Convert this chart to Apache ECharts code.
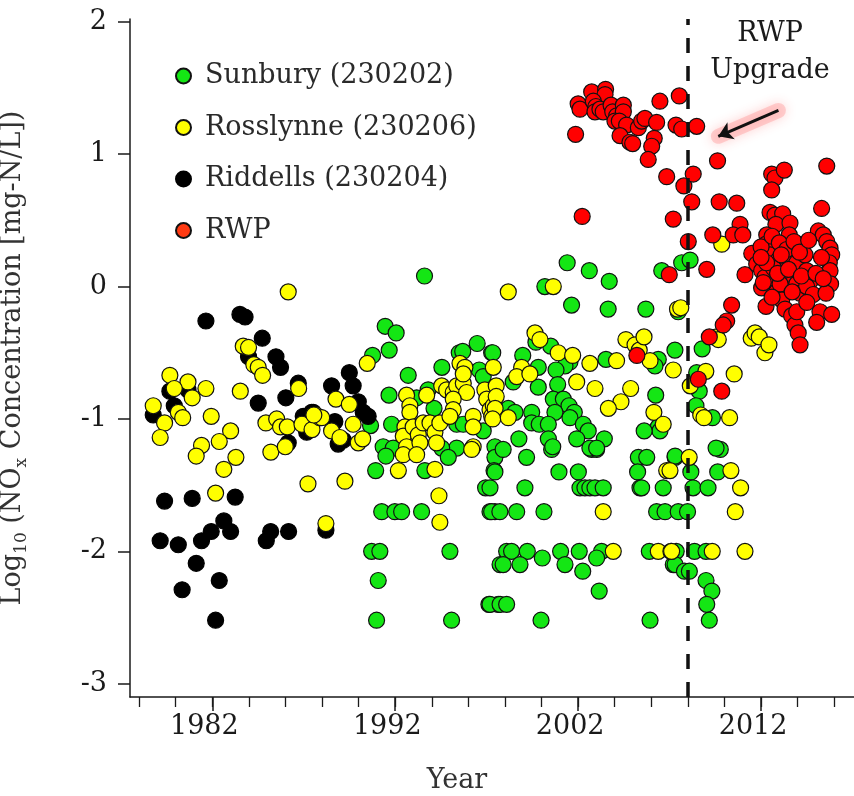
<!DOCTYPE html>
<html>
<head>
<meta charset="utf-8">
<script src="https://cdn.jsdelivr.net/npm/echarts@6/dist/echarts.min.js"></script>
<style>
html, body { margin: 0; padding: 0; background: #fff; }
#chart { width: 854px; height: 796px; }
</style>
</head>
<body>
<div id="chart"></div>
<script>
// Site names as shown in the legend
const seriesNames = ['Sunbury (230202)', 'Rosslynne (230206)', 'Riddells (230204)', 'RWP'];

// Tick positions
const yearLabels = [1982, 1992, 2002, 2012];
const yearMinorTicks = [1978, 1980, 1982, 1984, 1986, 1988, 1990, 1992, 1994, 1996, 1998, 2000, 2002, 2004, 2006, 2008, 2010, 2012, 2014, 2016];
const logTicks = [-3, -2, -1, 0, 1, 2];

// Year of the RWP upgrade (dashed line)
const upgradeYear = 2008;
// Arrow pointing at the post-upgrade drop
const arrowCoords = [[2012.95, 1.33], [2009.66, 1.135]];

// [year, log10 NOx (mg-N/L)]
const sunbury = [
  [1993.6,0.08],[1991.45,-0.30],[1992.05,-0.35],[1991.67,-0.48],[1990.76,-0.52],[1992.71,-0.67],[1991.66,-0.82],
  [1996.48,-0.43],[1997.27,-0.50],[1995.50,-0.50],[1995.69,-0.49],[1994.55,-0.61],[1996.59,-0.63],[1996.81,-0.68],
  [1993.17,-0.84],[1994.12,-0.92],[1993.80,-0.78],[1990.65,-1.05],[1991.80,-1.04],[1995.36,-1.04],[1995.72,-1.04],
  [1996.81,-1.09],[1991.34,-1.21],[1991.89,-1.22],[1995.36,-1.22],[1997.45,-1.21],[1994.54,-1.22],[1991.49,-1.28],
  [1990.93,-1.39],[1993.62,-1.39],[1994.90,-1.29],[1997.45,-1.29],[1997.40,-1.39],[1996.94,-1.52],[1991.26,-1.70],
  [1991.98,-1.70],[1992.35,-1.70],[1993.44,-1.70],[1997.18,-1.70],[1997.45,-1.70],[1990.71,-2.0],[1991.16,-2.0],
  [1994.99,-2.0],[1997.73,-2.10],[1991.07,-2.22],[1997.12,-2.40],[1997.63,-2.40],[1990.98,-2.52],[1995.08,-2.52],
  [1997.90,-1.23],[1999.18,-1.29],[2000.55,-1.23],[2002.74,-1.23],[2003.01,-1.23],[2005.29,-1.29],[2005.75,-1.29],
  [2007.30,-1.29],[1997.45,-1.40],[2000.95,-1.40],[2002.01,-1.40],[2005.25,-1.40],[1997.18,-1.52],[1999.09,-1.52],
  [2002.10,-1.52],[2002.37,-1.52],[2002.64,-1.52],[2002.92,-1.52],[2003.37,-1.52],[2005.38,-1.52],[2005.47,-1.52],
  [2006.65,-1.52],[1997.27,-1.70],[1997.72,-1.70],[1998.64,-1.70],[2000.13,-1.70],[2006.29,-1.70],[2006.75,-1.70],
  [2007.47,-1.70],[1998.09,-2.0],[1998.36,-2.0],[1999.22,-2.0],[2000.04,-2.05],[2001.04,-2.0],[2002.06,-2.0],
  [2003.28,-2.0],[2003.01,-2.05],[2005.89,-2.0],[2007.20,-2.10],[1997.90,-2.10],[1998.82,-2.10],[2001.28,-2.10],
  [2002.25,-2.15],[2003.15,-2.30],[1997.18,-2.40],[1997.73,-2.40],[1998.09,-2.40],[1999.97,-2.52],[2005.93,-2.52],
  [2009.77,-1.23],[2008.16,-1.40],[2009.63,-1.40],[2008.28,-1.52],[2009.10,-1.52],[2007.98,-1.70],[2007.36,-2.0],
  [2008.36,-2.0],[2008.99,-2.0],[2007.30,-2.10],[2007.81,-2.15],[2008.08,-2.15],[2008.99,-2.22],[2009.31,-2.30],
  [2009.03,-2.40],[2009.17,-2.52],
  [2000.18,0.0],[2003.70,0.04],[2001.64,-0.14],[2003.64,-0.17],[2005.70,-0.17],[2007.47,-0.19],[1999.69,-0.42],
  [2000.50,-0.45],[2001.55,-0.57],[2001.28,-0.60],[1998.97,-0.52],[1997.33,-0.50],[1998.45,-0.72],[1999.82,-0.61],
  [2000.79,-0.63],[2003.52,-0.55],[2006.38,-0.55],[2006.20,-0.60],[2007.29,-0.48],[2006.24,-0.82],[2006.38,-1.06],
  [2006.47,-1.09],[2005.61,-1.09],[1998.18,-0.92],[1998.55,-0.95],[1999.82,-0.76],[2000.88,-0.74],[2000.64,-0.85],
  [2001.19,-0.85],[2001.50,-0.90],[2001.79,-0.95],[2001.55,-0.99],[2000.73,-0.95],[1999.46,-0.95],[1999.46,-1.03],
  [1999.87,-1.04],[2000.37,-1.04],[2002.28,-1.04],[2002.55,-1.09],[1998.76,-1.15],[2000.37,-1.15],[2000.61,-1.21],
  [2001.92,-1.15],[2003.43,-1.15],[2002.64,-1.22],[2003.01,-1.22],
  [2001.40,0.18],[2002.61,0.12],[2006.57,0.12],[2007.66,0.18],[2008.12,0.20],
  [2008.78,-0.47],[2008.48,-0.65],[2008.62,-0.79],[2008.44,-0.90],[2009.34,-0.99],[2009.54,-1.22],[2007.30,-1.28]
];

const rosslynne = [
  [1986.15,-0.04],[1983.69,-0.45],[1983.98,-0.46],[1984.27,-0.59],[1984.51,-0.61],[1984.75,-0.67],[1979.68,-0.67],
  [1980.67,-0.72],[1979.92,-0.77],[1980.90,-0.84],[1981.65,-0.77],[1983.53,-0.79],[1986.72,-0.77],[1978.77,-0.90],
  [1980.14,-0.95],[1980.38,-0.99],[1981.94,-0.98],[1979.39,-1.03],[1979.15,-1.14],[1983.00,-1.09],[1982.38,-1.17],
  [1981.41,-1.20],[1981.12,-1.28],[1983.29,-1.29],[1984.93,-1.03],[1985.52,-1.00],[1985.73,-1.06],[1986.10,-1.06],
  [1985.20,-1.25],[1985.99,-1.21],[1986.90,-1.04],[1987.45,-1.08],[1987.66,-0.97],[1987.88,-0.99],[1982.63,-1.38],
  [1982.18,-1.56],[1987.23,-1.49],
  [1990.47,-0.58],[1988.76,-0.85],[1989.49,-0.89],[1989.70,-1.04],[1987.98,-0.99],[1987.55,-0.97],[1988.52,-1.09],
  [1988.98,-1.14],[1989.98,-1.18],[1990.22,-1.15],[1989.25,-1.47],[1988.21,-1.79],
  [1992.62,-0.82],[1992.80,-0.90],[1992.80,-0.95],[1992.53,-1.06],[1992.44,-1.13],[1992.62,-1.21],[1992.98,-1.06],
  [1993.26,-1.12],[1993.35,-1.18],[1993.53,-1.03],[1993.90,-1.03],[1994.17,-1.10],[1994.26,-1.18],[1994.44,-1.03],
  [1994.54,-0.75],[1994.81,-0.78],[1995.17,-0.80],[1995.36,-0.75],[1995.72,-0.73],[1995.90,-0.80],[1995.17,-0.85],
  [1995.17,-0.93],[1994.99,-0.98],[1995.54,-0.58],[1995.81,-0.61],[1995.72,-0.66],[1996.26,-0.98],[1996.26,-1.06],
  [1996.90,-0.78],[1997.00,-0.85],[1997.18,-0.93],[1997.36,-0.90],[1997.36,-0.61],[1997.27,-0.98],[1996.26,-1.21],
  [1992.44,-1.27],[1993.17,-1.27],[1993.72,-0.82],[1992.17,-1.39],[1994.17,-1.38],[1996.18,-1.23],[1994.39,-1.58],
  [1994.44,-1.78],
  [1998.18,-0.04],[2000.64,0.0],[1999.64,-0.35],[1999.91,-0.40],[2000.91,-0.50],[2001.70,-0.52],[1998.91,-0.61],
  [1998.64,-0.68],[1999.36,-0.66],[2002.64,-0.58],[2004.10,-0.56],[2004.61,-0.40],[2005.11,-0.44],[2005.34,-0.48],
  [2005.60,-0.38],[2005.93,-0.56],[2007.20,-0.63],[2001.92,-0.72],[2002.92,-0.77],[2004.87,-0.77],[2004.34,-0.87],
  [2003.65,-0.92],[2006.14,-0.95],[2006.65,-1.04],[1997.52,-0.75],[1997.52,-0.83],[1997.46,-0.92],[1997.33,-1.00],
  [1998.18,-0.99],
  [2006.84,-1.39],[2003.37,-1.70],[2003.92,-2.0],[2006.38,-2.0],[2007.07,-2.0],
  [2008.07,-1.29],[2007.02,-1.39],[2010.35,-1.39],[2010.88,-1.52],[2010.59,-1.70],[2007.11,-2.0],[2009.33,-2.0],
  [2011.12,-2.0],
  [2009.57,-0.38],[2009.66,-0.40],[2011.46,-0.39],[2011.67,-0.35],[2011.90,-0.38],[2012.21,-0.50],[2012.43,-0.44],
  [2007.43,-0.17],[2007.61,-0.16],[2008.13,-0.75],[2008.98,-0.64],[2010.53,-0.66],[2008.70,-0.97],[2008.88,-0.99],
  [2010.28,-0.99],[2009.85,0.32]
];

const riddells = [
  [1981.65,-0.26],[1983.51,-0.21],[1983.79,-0.23],[1984.73,-0.39],[1983.98,-0.53],[1985.48,-0.53],[1985.73,-0.61],
  [1986.70,-0.73],[1986.02,-0.84],[1984.51,-0.88],[1979.68,-0.79],[1980.67,-0.78],[1979.92,-0.90],[1978.77,-0.97],
  [1986.97,-0.98],[1987.43,-0.95],[1987.16,-1.10],[1986.15,-1.18],[1988.52,-0.75],[1989.49,-0.65],[1989.70,-0.75],
  [1989.98,-0.87],[1990.25,-0.95],[1990.52,-0.98],[1987.52,-0.95],[1987.43,-1.06],[1988.70,-1.02],[1988.88,-1.19],
  [1989.16,-1.16],[1979.39,-1.62],[1980.90,-1.60],[1983.25,-1.59],[1982.63,-1.77],[1981.94,-1.85],[1983.00,-1.85],
  [1979.15,-1.92],[1980.14,-1.95],[1981.41,-1.92],[1985.19,-1.85],[1984.95,-1.92],[1986.17,-1.85],[1981.12,-2.09],
  [1982.38,-2.22],[1980.35,-2.29],[1982.18,-2.52],[1988.21,-1.84]
];

const rwp = [
  [2002.74,1.47],[2003.50,1.49],[2003.47,1.45],[2002.00,1.38],[2002.10,1.34],[2002.83,1.40],[2002.97,1.36],
  [2002.92,1.32],[2003.19,1.34],[2003.37,1.32],[2003.80,1.37],[2003.89,1.32],[2004.11,1.29],[2004.47,1.37],
  [2004.47,1.32],[2004.01,1.25],[2004.25,1.25],[2004.65,1.22],[2005.29,1.20],[2005.47,1.25],[2005.65,1.27],
  [2006.29,1.24],[2006.47,1.40],[2007.53,1.44],[2001.86,1.15],[2004.29,1.14],[2004.83,1.09],[2004.98,1.08],
  [2006.16,1.12],[2006.02,1.06],[2005.83,0.96],[2007.35,1.22],[2007.66,1.19],[2008.48,1.21],[2006.84,0.83],
  [2007.78,0.76],[2008.29,0.85],[2008.21,0.64],[2002.22,0.53],[2007.20,0.51],[2008.02,0.34],[2006.98,0.09],
  [2009.62,0.95],[2015.59,0.91],[2012.58,0.85],[2012.76,0.82],[2013.27,0.88],[2012.58,0.73],[2009.71,0.64],
  [2010.67,0.63],[2015.31,0.59],[2010.85,0.47],[2010.48,0.39],[2011.00,0.39],[2009.36,0.39],[2012.49,0.56],
  [2012.76,0.54],[2013.18,0.55],[2012.81,0.47],[2013.58,0.48],[2013.54,0.39],[2009.03,0.13],[2011.12,0.09],
  [2015.13,0.42],[2015.40,0.39],[2015.59,0.34],[2015.77,0.29],[2015.86,0.24],[2015.73,0.18],[2015.77,0.12],
  [2015.80,0.02],
  [2012.31,0.39],[2012.27,0.32],[2012.76,0.29],[2012.49,0.24],[2012.94,0.20],[2011.49,0.25],[2011.76,0.17],
  [2012.03,0.12],[2012.21,0.07],[2012.49,0.02],[2012.85,-0.04],[2013.40,-0.01],[2013.58,0.19],[2013.95,0.18],
  [2014.31,0.32],[2014.40,0.24],[2014.49,0.12],[2014.68,0.04],[2014.77,-0.06],[2013.58,0.07],[2013.95,0.02],
  [2013.22,0.12],[2012.67,0.14],[2012.03,-0.01],
  [2012.12,0.03],[2013.13,-0.10],[2013.31,-0.17],[2013.67,-0.22],[2013.85,-0.29],[2014.03,-0.35],[2014.13,-0.44],
  [2013.95,-0.19],[2014.13,-0.05],[2014.49,0.00],[2014.85,-0.06],[2015.22,-0.19],[2015.86,-0.21],[2015.04,-0.27],
  [2013.04,0.02],[2010.39,-0.14],[2012.27,-0.15],[2010.12,-0.26],[2009.93,-0.29],[2009.17,-0.38],[2008.57,-0.70],
  [2009.85,-0.79],[2005.21,-0.52],
  [2012.0,0.30],[2012.6,0.38],[2013.0,0.33],[2013.4,0.28],[2013.8,0.34],[2014.1,0.26],[2012.3,0.18],[2012.9,0.10],
  [2013.5,0.13],[2014.2,0.08],[2013.7,-0.04],[2012.6,-0.08],[2014.5,-0.12],[2015.0,0.10],[2015.3,0.22],
  [2015.55,-0.05],[2015.4,0.06],[2012.0,0.22],[2013.1,0.24],[2014.6,0.35]
];

const FONT = 'DejaVu Serif';
const TEXT_COLOR = '#1a1a1a';
const X_MIN = 1977.5, X_MAX = 2017.08;
const Y_MIN = -3.1, Y_MAX = 2.021;

const chart = echarts.init(document.getElementById('chart'), null, { renderer: 'canvas' });

function dotStyle(fill, border) {
  return { color: fill, borderColor: border, borderWidth: 1.2, opacity: 1 };
}

const option = {
  animation: false,
  backgroundColor: '#ffffff',
  grid: { left: 130, right: 0, top: 19, bottom: 99, outerBoundsMode: 'none', containLabel: false },
  legend: {
    orient: 'vertical',
    left: 170,
    top: 55,
    icon: 'circle',
    itemWidth: 15,
    itemHeight: 15,
    itemGap: 19.5,
    data: [
      seriesNames[0], seriesNames[1], seriesNames[2],
      { name: seriesNames[3], itemStyle: { color: '#ff3a12' } }
    ],
    textStyle: { fontFamily: FONT, fontSize: 27, color: '#2a2a2a', padding: [0, 0, 0, 9], lineHeight: 32 }
  },
  xAxis: [
    {
      type: 'value', min: X_MIN, max: X_MAX, position: 'bottom',
      name: 'Year', nameLocation: 'middle', nameGap: 70,
      nameTextStyle: { fontFamily: FONT, fontSize: 27, color: '#333', padding: [0, 70, 0, 0] },
      axisLine: { show: true, onZero: false, lineStyle: { color: TEXT_COLOR, width: 1.5 } },
      axisTick: { show: true, customValues: yearLabels, length: 14, lineStyle: { color: TEXT_COLOR, width: 1.5 } },
      axisLabel: {
        customValues: yearLabels, formatter: v => String(v),
        fontFamily: FONT, fontSize: 27, color: TEXT_COLOR, margin: 16, padding: [0, 16, 0, 0]
      },
      splitLine: { show: false }
    },
    {
      type: 'value', min: X_MIN, max: X_MAX, position: 'bottom',
      axisLine: { show: false, onZero: false },
      axisTick: { show: true, customValues: yearMinorTicks, length: 10, lineStyle: { color: TEXT_COLOR, width: 1.3 } },
      axisLabel: { show: false },
      splitLine: { show: false }
    }
  ],
  yAxis: {
    type: 'value', min: Y_MIN, max: Y_MAX,
    name: '{n|Log}{s|10}{n| (NO}{s|x}{n| Concentration [mg-N/L])}',
    nameLocation: 'middle', nameRotate: 90, nameGap: 100,
    nameTextStyle: {
      color: '#333',
      rich: {
        n: { fontFamily: FONT, fontSize: 27, color: '#333', lineHeight: 34 },
        s: { fontFamily: FONT, fontSize: 17, color: '#333', lineHeight: 18, verticalAlign: 'bottom' }
      }
    },
    axisLine: { show: true, onZero: false, lineStyle: { color: TEXT_COLOR, width: 1.5 } },
    axisTick: { show: true, customValues: logTicks, length: 12, lineStyle: { color: TEXT_COLOR, width: 1.5 } },
    axisLabel: {
      customValues: logTicks, formatter: v => String(v),
      fontFamily: FONT, fontSize: 27, color: TEXT_COLOR, margin: 23
    },
    splitLine: { show: false }
  },
  graphic: [
    {
      type: 'text', x: 770, y: 15, silent: true,
      style: {
        text: 'RWP\nUpgrade', textAlign: 'center', textVerticalAlign: 'top',
        fontFamily: FONT, fontSize: 27, lineHeight: 37, fill: TEXT_COLOR
      }
    }
  ],
  series: [
    {
      name: seriesNames[0], type: 'scatter', data: sunbury, symbol: 'circle', symbolSize: 16,
      itemStyle: dotStyle('#14e614', '#111')
    },
    {
      name: seriesNames[2], type: 'scatter', data: riddells, symbol: 'circle', symbolSize: 16,
      itemStyle: dotStyle('#000000', '#000000')
    },
    {
      name: seriesNames[1], type: 'scatter', data: rosslynne, symbol: 'circle', symbolSize: 16,
      itemStyle: dotStyle('#ffff00', '#111')
    },
    {
      name: seriesNames[3], type: 'scatter', data: rwp, symbol: 'circle', symbolSize: 16,
      itemStyle: dotStyle('#ff0000', '#111'),
      markLine: {
        silent: true, symbol: ['none', 'none'], label: { show: false },
        lineStyle: { type: [15, 13], width: 3.5, color: '#111' },
        emphasis: { disabled: true },
        data: [{ xAxis: upgradeYear }]
      }
    },
    {
      // soft red glow behind the arrow
      type: 'lines', coordinateSystem: 'cartesian2d', silent: true, z: 3,
      symbol: ['none', 'none'],
      lineStyle: { color: 'rgba(255,150,150,0.4)', width: 15, opacity: 1, shadowBlur: 12, shadowColor: 'rgba(255,60,60,0.55)', cap: 'round' },
      data: [{ coords: arrowCoords }]
    },
    {
      type: 'lines', coordinateSystem: 'cartesian2d', silent: true, z: 4,
      symbol: ['none', 'arrow'], symbolSize: 14,
      lineStyle: { color: '#111', width: 3, opacity: 1 },
      data: [{ coords: arrowCoords }]
    }
  ]
};

chart.setOption(option);
</script>
</body>
</html>
